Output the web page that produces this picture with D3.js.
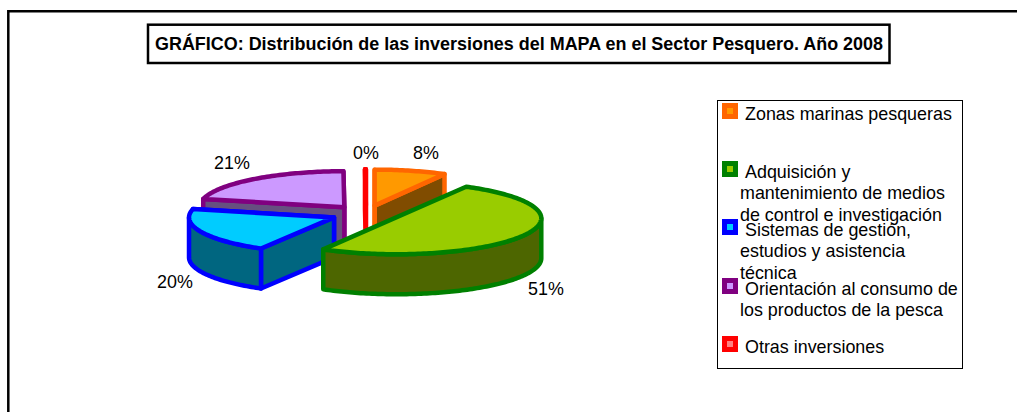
<!DOCTYPE html>
<html><head><meta charset="utf-8">
<script src="https://cdn.jsdelivr.net/npm/d3@7"></script>
<style>html,body{margin:0;padding:0;background:#fff}svg{display:block}text{font-family:"Liberation Sans",Arial,sans-serif;fill:#000}</style>
</head><body><svg id="c" width="1017" height="412"></svg>
<script>
const titleText = "GRÁFICO: Distribución de las inversiones del MAPA en el Sector Pesquero. Año 2008";
const categories = ["Zonas marinas pesqueras","Adquisición y mantenimiento de medios de control e investigación","Sistemas de gestión, estudios y asistencia técnica","Orientación al consumo de los productos de la pesca","Otras inversiones"];
const legendLines = [["Zonas marinas pesqueras"],["Adquisición y","mantenimiento de medios","de control e investigación"],["Sistemas de gestión,","estudios y asistencia","técnica"],["Orientación al consumo de","los productos de la pesca"],["Otras inversiones"]];
const values = [8, 50.4, 20.3, 21.2, 0.1];
const percentLabels = ["8%","51%","20%","21%","0%"];
const topColors = ["#FF9900","#99CC00","#00CCFF","#CC99FF","#FF8080"];
const edgeColors = ["#FF6600","#008000","#0000FF","#800080","#FF0000"];
const sideColors = ["#804C00","#4D6600","#006680","#665080","#804040"];

const svg = d3.select("#c");
const FS = 17.9;
// page frame and title box
svg.append("path").attr("d","M8.3,412V11.3H1017").attr("fill","none").attr("stroke","#000").attr("stroke-width",2.5);
svg.append("rect").attr("x",148).attr("y",24.7).attr("width",741.5).attr("height",38.3).attr("fill","#fff").attr("stroke","#000").attr("stroke-width",2.5);
svg.append("text").attr("x",519).attr("y",50).attr("text-anchor","middle").attr("font-weight","bold").attr("font-size",17.95).text(titleText);

// pie projection
const cx=366, cy=214, rx=145, ry=36, depth=40, explode=0.24;
const sx=d3.scaleLinear().domain([-1,1]).range([cx-rx,cx+rx]);
const sy=d3.scaleLinear().domain([-1,1]).range([cy-ry,cy+ry]);
const pie=d3.pie().sort(null).startAngle(0).endAngle(2*Math.PI)(values);
const line=d3.line();
const g=svg.append("g").attr("stroke-linejoin","round").attr("stroke-linecap","round").attr("stroke-width",4.5);
const arcPts=(c,a0,a1,dz)=>{
  const n=Math.max(2,Math.ceil((a1-a0)/0.02));
  return d3.range(n+1).map(i=>{const a=a0+(a1-a0)*i/n;
    return [c[0]+rx*Math.sin(a), c[1]-ry*Math.cos(a)+dz];});
};
const order=[3,4,0,2,1];
order.forEach(i=>{
  const d=pie[i], mid=(d.startAngle+d.endAngle)/2;
  const c=[sx(explode*Math.sin(mid)), sy(-explode*Math.cos(mid))];
  const col={fill:sideColors[i],stroke:edgeColors[i]};
  const draw=(pts,fill)=>g.append("path").attr("d",line(pts)+"Z").attr("fill",fill).attr("stroke",col.stroke);
  const ptS=arcPts(c,d.startAngle,d.startAngle,0)[0], ptE=arcPts(c,d.endAngle,d.endAngle,0)[0];
  const down=p=>[p[0],p[1]+depth];
  // cut faces
  if(d.value<40){
    draw([c,ptE,down(ptE),down(c)],col.fill);
    draw([c,ptS,down(ptS),down(c)],col.fill);
  }
  // outer wall (front half of the rim)
  const a0=Math.max(d.startAngle,Math.PI/2), a1=Math.min(d.endAngle,3*Math.PI/2);
  if(a1>a0){
    const top=arcPts(c,a0,a1,0), bot=arcPts(c,a0,a1,depth).reverse();
    draw(top.concat(bot),col.fill);
  }
  // top surface
  const rim=arcPts(c,d.startAngle,d.endAngle,0);
  g.append("path").attr("d",line(d.value<40?[c].concat(rim):rim)+"Z").attr("fill",topColors[i]).attr("stroke",col.stroke);
});

// data labels
const labelPos=[[426,158.7],[546,294.7],[175,287.7],[232,168.7],[366,158.7]];
percentLabels.forEach((t,i)=>svg.append("text").attr("x",labelPos[i][0]).attr("y",labelPos[i][1]).attr("text-anchor","middle").attr("font-size",FS).text(t));

// legend
svg.append("rect").attr("x",717.5).attr("y",100.5).attr("width",245).attr("height",268).attr("fill","none").attr("stroke","#000").attr("stroke-width",1);
const legendTop=[103,161,219,278,336];
categories.forEach((name,i)=>{
  const y=legendTop[i];
  svg.append("rect").attr("x",722).attr("y",y).attr("width",16).attr("height",16).attr("fill",edgeColors[i]);
  svg.append("rect").attr("x",727).attr("y",y+5).attr("width",6).attr("height",6).attr("fill",topColors[i]);
  legendLines[i].forEach((t,j)=>svg.append("text").attr("x",j===0?745:740).attr("y",y+16.7+j*21.7).attr("font-size",FS).text(t));
});
</script></body></html>
